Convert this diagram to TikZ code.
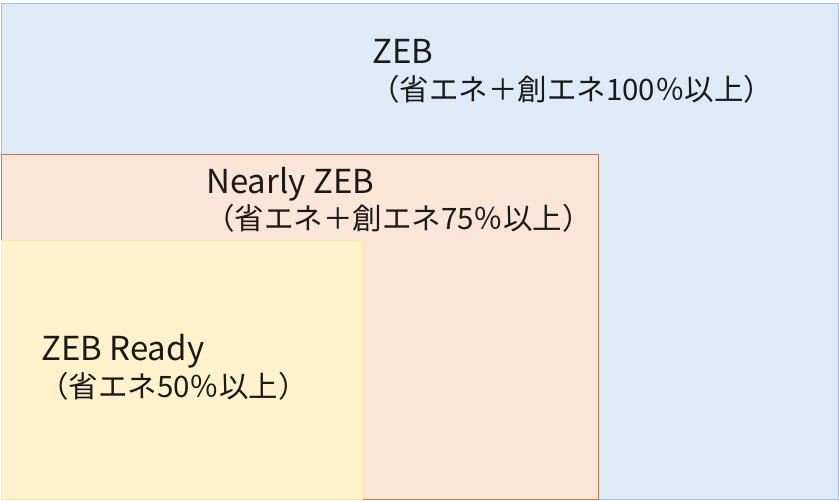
\documentclass[tikz,border=0pt]{standalone}
\usepackage{fontspec}
\setmainfont{Noto Sans CJK JP}
\definecolor{zebfill}{HTML}{DEEBF7}
\definecolor{zebdraw}{HTML}{A4C2E4}
\definecolor{nearfill}{HTML}{FBE5D6}
\definecolor{neardraw}{HTML}{C8784A}
\definecolor{readyfill}{HTML}{FFF2CC}
\definecolor{readydraw}{HTML}{FFE8A0}
\definecolor{txt}{HTML}{1A1A1A}
\tikzset{
  lat/.style={anchor=base west, inner sep=0pt, text=txt, font=\fontsize{33}{36}\selectfont},
  jp/.style={anchor=base west, inner sep=0pt, text=txt, font=\fontsize{29.5}{32}\selectfont},
  area/.style={line width=1pt}
}
\begin{document}
\begin{tikzpicture}[x=1pt,y=-1pt]
\useasboundingbox (0,0) rectangle (839,501);
\fill[white] (0,0) rectangle (839,501);
\draw[area, fill=zebfill, draw=zebdraw] (1,3) rectangle (838,499);
\draw[area, fill=nearfill, draw=neardraw] (1,154) rectangle (598,499);
\draw[area, fill=readyfill, draw=readydraw] (1,240) rectangle (362,499);
\node[lat] (zeb) at (372,63) {ZEB};
\node[jp] (zebjp) at (370,100) {（省エネ＋創エネ100％以上）};
\node[lat] (near) at (206,193) {Nearly ZEB};
\node[jp] (nearjp) at (205,229) {（省エネ＋創エネ75％以上）};
\node[lat] (ready) at (41,360) {ZEB Ready};
\node[jp] (readyjp) at (39,397) {（省エネ50％以上）};
\end{tikzpicture}
\end{document}
